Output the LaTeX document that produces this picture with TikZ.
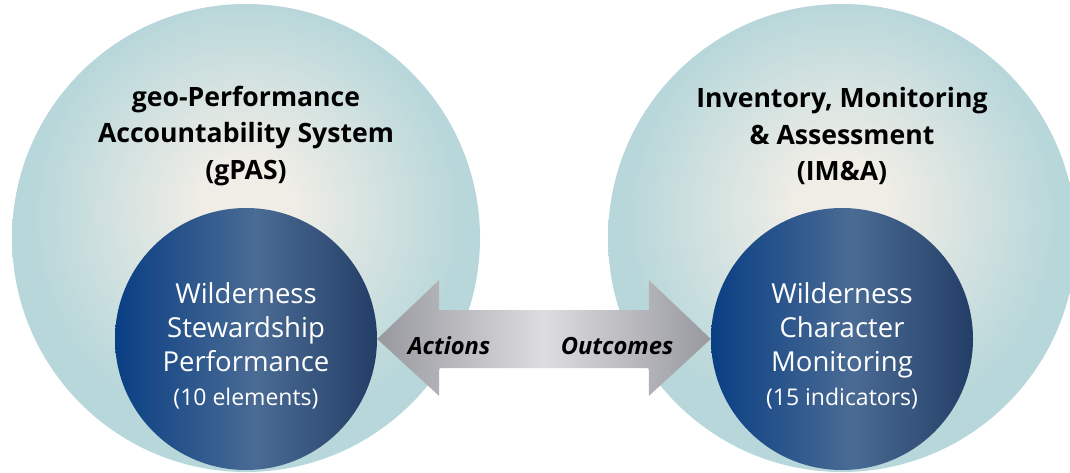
\documentclass[tikz,border=0pt]{standalone}
\usepackage{fontspec}
\setmainfont{Open Sans}
\usetikzlibrary{calc}
\definecolor{cream}{HTML}{EFEDE6}
\definecolor{tealedge}{HTML}{B8D7DA}
\definecolor{blueA}{HTML}{0A3F84}
\definecolor{blueB}{HTML}{4A6B94}
\definecolor{blueC}{HTML}{233E66}
\definecolor{greyEnd}{HTML}{98999E}
\definecolor{greyMid}{HTML}{DDDDE1}
\pgfdeclareradialshading{outerglow}{\pgfpoint{0bp}{4bp}}{color(0bp)=(cream); color(5bp)=(cream); color(23bp)=(tealedge); color(50bp)=(tealedge)}
\pgfdeclarehorizontalshading{innerblue}{100bp}{color(0bp)=(blueA); color(25bp)=(blueA); color(52bp)=(blueB); color(75bp)=(blueC); color(100bp)=(blueC)}
\pgfdeclarehorizontalshading{arrowgrey}{100bp}{color(0bp)=(greyEnd); color(25bp)=(greyEnd); color(50bp)=(greyMid); color(75bp)=(greyEnd); color(100bp)=(greyEnd)}
\tikzset{
  outercirc/.style={circle, minimum size=468pt, inner sep=0pt, shading=outerglow},
  innercirc/.style={circle, minimum size=262pt, inner sep=0pt, shading=innerblue},
  titletext/.style={align=center, text=black, font=\bfseries\fontsize{26.6}{36.5}\selectfont},
  innertext/.style={align=center, text=white, font=\fontsize{27.5}{34}\selectfont},
  arrowlabel/.style={text=black, font=\bfseries\itshape\fontsize{23.7}{28}\selectfont},
  arrowbody/.style={shading=arrowgrey}
}
\begin{document}
\begin{tikzpicture}[x=1pt,y=-1pt]
\useasboundingbox (0,0) rectangle (1070,473);
\clip (0,0) rectangle (1070,473);
% outer circles
\node[outercirc] (gpas) at (246,238) {};
\node[outercirc] (ima) at (842,238) {};
% titles
\node[titletext] (gpast) at (246,136) {geo-Performance\\Accountability System\\(gPAS)};
\node[titletext] (imat) at (842,136) {Inventory, Monitoring\\\& Assessment\\(IM\&A)};
% inner circles
\node[innercirc] (wsp) at (246,339) {};
\node[innercirc] (wcm) at (842,339) {};
% double arrow between inner circles
\path[arrowbody] (wsp.east) -- ($(wsp.east)+(62,-59)$) -- ($(wsp.east)+(62,-29)$)
  -- ($(wcm.west)+(-62,-29)$) -- ($(wcm.west)+(-62,-59)$) -- (wcm.west)
  -- ($(wcm.west)+(-62,57)$) -- ($(wcm.west)+(-62,29)$)
  -- ($(wsp.east)+(62,29)$) -- ($(wsp.east)+(62,57)$) -- cycle;
\node[arrowlabel] (act) at (449,346) {Actions};
\node[arrowlabel] (out) at (617,346) {Outcomes};
% inner texts
\node[innertext] (wspt) at (246,346) {Wilderness\\Stewardship\\Performance\\{\fontsize{23}{30}\selectfont (10 elements)}};
\node[innertext] (wcmt) at (842,346) {Wilderness\\Character\\Monitoring\\{\fontsize{23}{30}\selectfont (15 indicators)}};
\end{tikzpicture}
\end{document}
